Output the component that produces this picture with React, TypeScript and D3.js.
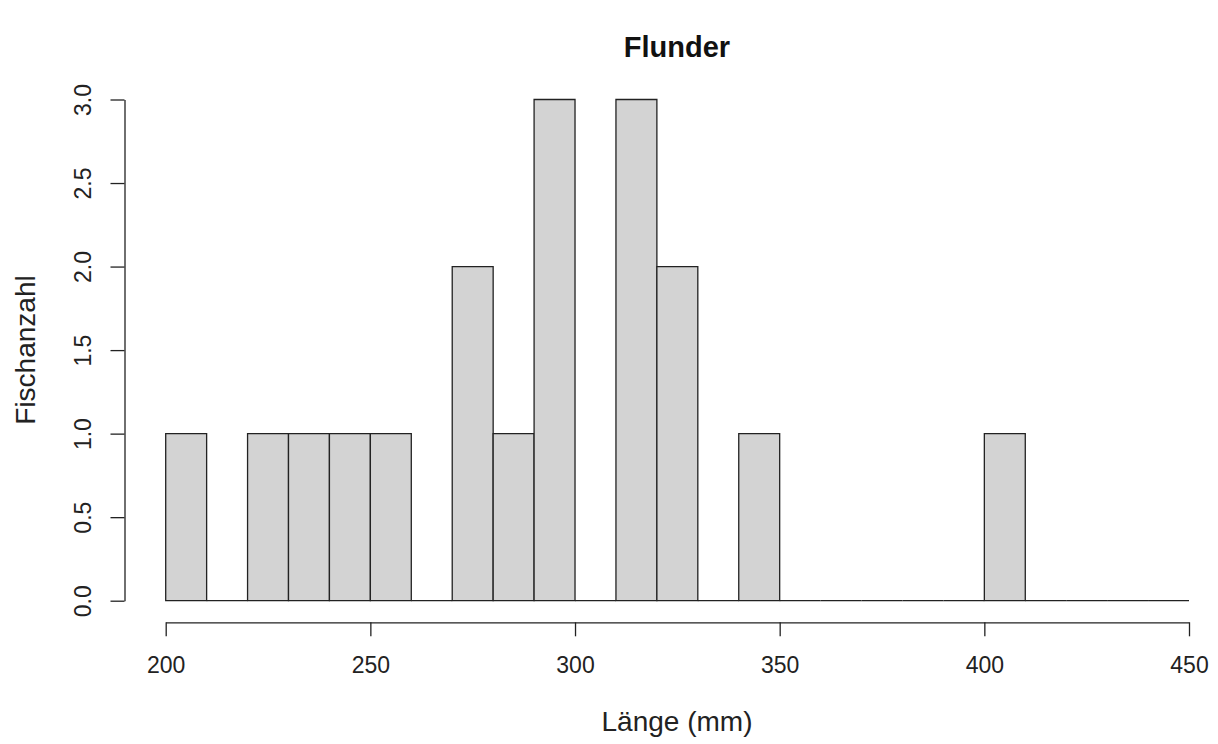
import { useEffect, useRef } from 'react'
import { select, scaleLinear, range, axisBottom, axisLeft } from 'd3'

// histogram bins (lower edges, mm) and fish counts
const binStarts = [200, 210, 220, 230, 240, 250, 260, 270, 280, 290, 300, 310, 320, 330, 340, 350, 360, 370, 380, 390, 400, 410, 420, 430, 440]
const counts = [1, 0, 1, 1, 1, 1, 0, 2, 1, 3, 0, 3, 2, 0, 1, 0, 0, 0, 0, 0, 1, 0, 0, 0, 0]
const binWidth = 10
const xTicks = [200, 250, 300, 350, 400, 450]
const yTicks = [0, 0.5, 1, 1.5, 2, 2.5, 3]

const title = 'Flunder'
const xLabel = 'Länge (mm)'
const yLabel = 'Fischanzahl'

const W = 1218
const H = 744
const FONT = '"Liberation Sans", Arial, sans-serif'

const App = () => {
  const svgRef = useRef(null)

  useEffect(() => {
    document.body.style.margin = '0'
    const svg = select(svgRef.current)
    svg.selectAll('*').remove()

    const x = scaleLinear().domain([200, 450]).range([165.7, 1189])
    const y = scaleLinear().domain([0, 3]).range([600.7, 99.5])

    // bars (paths so empty bins still draw their baseline)
    svg
      .append('g')
      .selectAll('path')
      .data(binStarts.map((s, i) => ({ s, c: counts[i] })))
      .join('path')
      .attr('d', (d) => {
        const x0 = x(d.s)
        const x1 = x(d.s + binWidth)
        const y0 = y(0)
        const y1 = y(d.c)
        return `M${x0},${y0}H${x1}V${y1}H${x0}Z`
      })
      .attr('fill', (d) => (d.c > 0 ? '#d3d3d3' : 'none'))
      .attr('stroke', '#222')
      .attr('stroke-width', 1.3)

    // x axis
    const gx = svg
      .append('g')
      .attr('transform', 'translate(0,622.3)')
      .call(axisBottom(x).tickValues(xTicks).tickSize(14).tickPadding(20).tickSizeOuter(0))
    gx.select('.domain').attr('stroke', '#222').attr('stroke-width', 1.3)
    gx.selectAll('line').attr('stroke', '#222').attr('stroke-width', 1.3)
    gx.selectAll('text')
      .attr('font-family', FONT)
      .attr('font-size', 23)
      .attr('fill', '#222')

    // y axis
    const gy = svg
      .append('g')
      .attr('transform', 'translate(124.5,0)')
      .call(axisLeft(y).tickValues(yTicks).tickFormat((d) => (+d).toFixed(1)).tickSize(14).tickSizeOuter(0))
    gy.select('.domain').attr('stroke', '#222').attr('stroke-width', 1.3)
    gy.selectAll('line').attr('stroke', '#222').attr('stroke-width', 1.3)
    gy.selectAll('text')
      .attr('font-family', FONT)
      .attr('font-size', 23)
      .attr('fill', '#222')
      .attr('x', null)
      .attr('dy', null)
      .attr('text-anchor', 'middle')
      .attr('transform', 'translate(-34,0) rotate(-90)')

    // title and labels
    svg
      .append('text')
      .attr('x', 677)
      .attr('y', 57)
      .attr('text-anchor', 'middle')
      .attr('font-family', FONT)
      .attr('font-weight', 'bold')
      .attr('font-size', 29)
      .attr('fill', '#111')
      .text(title)

    svg
      .append('text')
      .attr('x', 677)
      .attr('y', 731)
      .attr('text-anchor', 'middle')
      .attr('font-family', FONT)
      .attr('font-size', 28)
      .attr('fill', '#222')
      .text(xLabel)

    svg
      .append('text')
      .attr('transform', 'translate(35,350) rotate(-90)')
      .attr('text-anchor', 'middle')
      .attr('font-family', FONT)
      .attr('font-size', 28)
      .attr('fill', '#222')
      .text(yLabel)
  }, [])

  return <svg ref={svgRef} width={W} height={H} style={{ display: 'block', background: '#fff' }} />
}

export default App
